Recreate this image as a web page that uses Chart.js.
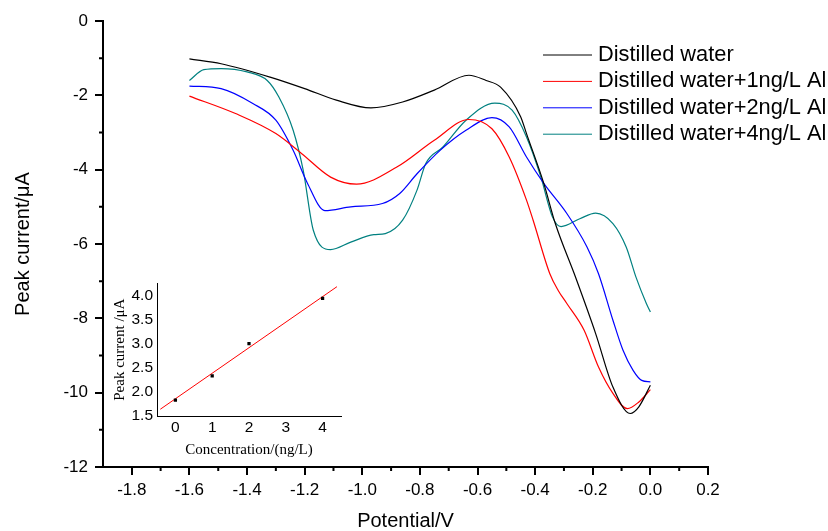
<!DOCTYPE html>
<html>
<head>
<meta charset="utf-8">
<script src="https://cdn.jsdelivr.net/npm/chart.js@4.4.0/dist/chart.umd.min.js"></script>
<style>
  body { margin: 0; background: #fff; }
  #wrap { position: relative; width: 828px; height: 531px; }
  #mainChart { position: absolute; left: 0; top: 0; }
  #insetBox { position: absolute; left: 100px; top: 270px; width: 250px; height: 190px; }
</style>
</head>
<body>
<div id="wrap">
  <canvas id="mainChart" width="828" height="531"></canvas>
  <div id="insetBox"><canvas id="insetChart" width="250" height="190"></canvas></div>
</div>
<script>
// main plot: potential (V) vs peak current (uA)
const seriesLabels = ['Distilled water', 'Distilled water+1ng/L Al', 'Distilled water+2ng/L Al', 'Distilled water+4ng/L Al'];
const seriesColors = ['#000000', '#ff0000', '#0000ff', '#008080'];

const waterX = [-1.60, -1.49, -1.32, -1.20, -1.09, -0.97, -0.86, -0.75, -0.63, -0.57, -0.52, -0.45, -0.43, -0.37, -0.33, -0.26, -0.19, -0.13, -0.07, -0.04, 0.0];
const waterY = [-1.02, -1.15, -1.51, -1.82, -2.13, -2.34, -2.18, -1.86, -1.46, -1.60, -1.78, -2.58, -3.03, -4.37, -5.45, -6.89, -8.41, -9.85, -10.56, -10.38, -9.80];

const al1X = [-1.60, -1.44, -1.30, -1.21, -1.11, -1.02, -0.88, -0.75, -0.63, -0.55, -0.49, -0.43, -0.407, -0.349, -0.32, -0.29, -0.23, -0.18, -0.13, -0.08, -0.04, 0.0];
const al1Y = [-2.02, -2.49, -3.03, -3.57, -4.20, -4.39, -3.93, -3.21, -2.65, -2.90, -3.66, -4.82, -5.36, -6.80, -7.25, -7.60, -8.32, -9.31, -10.02, -10.43, -10.25, -9.92];

const al2X = [-1.60, -1.49, -1.38, -1.30, -1.24, -1.19, -1.13, -1.04, -0.93, -0.87, -0.81, -0.73, -0.64, -0.55, -0.49, -0.43, -0.37, -0.29, -0.22, -0.18, -0.13, -0.095, -0.06, -0.03, 0.0];
const al2Y = [-1.75, -1.82, -2.22, -2.67, -3.48, -4.37, -5.10, -5.00, -4.91, -4.64, -4.11, -3.48, -2.94, -2.60, -2.85, -3.66, -4.37, -5.18, -6.08, -6.80, -8.05, -8.86, -9.40, -9.67, -9.71];

const al4X = [-1.60, -1.55, -1.49, -1.40, -1.33, -1.29, -1.24, -1.205, -1.17, -1.11, -1.04, -0.96, -0.92, -0.86, -0.81, -0.78, -0.72, -0.64, -0.54, -0.48, -0.43, -0.38, -0.34, -0.31, -0.245, -0.19, -0.13, -0.084, -0.05, -0.014, 0.0];
const al4Y = [-1.60, -1.31, -1.28, -1.37, -1.60, -2.04, -2.94, -4.02, -5.63, -6.15, -5.95, -5.75, -5.72, -5.36, -4.55, -3.84, -3.39, -2.67, -2.21, -2.40, -3.12, -4.20, -5.27, -5.53, -5.32, -5.17, -5.45, -6.08, -6.89, -7.60, -7.83];

const xTicks = [-1.8, -1.6, -1.4, -1.2, -1.0, -0.8, -0.6, -0.4, -0.2, 0.0, 0.2];
const xMinorTicks = [-1.7, -1.5, -1.3, -1.1, -0.9, -0.7, -0.5, -0.3, -0.1, 0.1];
const yTicks = [0, -2, -4, -6, -8, -10, -12];
const yMinorTicks = [-1, -3, -5, -7, -9, -11];

// inset: calibration
const concX = [0, 1, 2, 4];
const peakY = [1.83, 2.33, 3.0, 3.94];
const fitX = [-0.41, 4.39];
const fitY = [1.64, 4.18];
const insetXTicks = [0, 1, 2, 3, 4];
const insetYTicks = [1.5, 2.0, 2.5, 3.0, 3.5, 4.0];

const sans = "'Liberation Sans', Arial, sans-serif";
const serif = "'Liberation Serif', 'Times New Roman', serif";

function pts(xs, ys) {
  return xs.map((x, i) => ({ x: x, y: ys[i] }));
}

const minorTickPlugin = {
  id: 'minorTicks',
  afterDraw(chart) {
    const ctx = chart.ctx;
    const xs = chart.scales.x, ys = chart.scales.y;
    const area = chart.chartArea;
    ctx.save();
    ctx.strokeStyle = '#000';
    ctx.lineWidth = 2;
    ctx.beginPath();
    xMinorTicks.forEach(v => {
      const px = xs.getPixelForValue(v);
      ctx.moveTo(px, area.bottom);
      ctx.lineTo(px, area.bottom + 4);
    });
    yMinorTicks.forEach(v => {
      const py = ys.getPixelForValue(v);
      ctx.moveTo(area.left, py);
      ctx.lineTo(area.left - 4, py);
    });
    ctx.stroke();
    ctx.restore();
  }
};

const legendPlugin = {
  id: 'cornerLegend',
  afterDraw(chart) {
    const ctx = chart.ctx;
    const left = 543, lineLen = 49, top = 55, rowH = 26.4;
    ctx.save();
    ctx.font = '21.8px ' + sans;
    ctx.textBaseline = 'middle';
    ctx.fillStyle = '#000';
    chart.data.datasets.forEach((ds, i) => {
      const y = top + i * rowH;
      ctx.strokeStyle = ds.borderColor;
      ctx.lineWidth = 1;
      ctx.beginPath();
      ctx.moveTo(left, y);
      ctx.lineTo(left + lineLen, y);
      ctx.stroke();
      ctx.fillText(ds.label, left + lineLen + 6, y);
    });
    ctx.restore();
  }
};

const curveData = [pts(waterX, waterY), pts(al1X, al1Y), pts(al2X, al2Y), pts(al4X, al4Y)];

new Chart(document.getElementById('mainChart'), {
  type: 'line',
  data: {
    datasets: curveData.map((d, i) => ({
      label: seriesLabels[i],
      data: d,
      borderColor: seriesColors[i],
      borderWidth: 1.2,
      pointRadius: 0,
      fill: false,
      cubicInterpolationMode: 'monotone'
    }))
  },
  options: {
    responsive: false,
    animation: false,
    layout: { padding: { top: 21, right: 120, bottom: 0, left: 0 } },
    plugins: { legend: { display: false }, tooltip: { enabled: false } },
    scales: {
      x: {
        type: 'linear',
        min: -1.9,
        max: 0.2,
        afterBuildTicks: s => { s.ticks = xTicks.map(v => ({ value: v })); },
        afterFit: s => { s.height = 64; },
        border: { display: true, color: '#000', width: 2 },
        grid: { drawOnChartArea: false, color: '#000', lineWidth: 2, tickLength: 8 },
        ticks: {
          color: '#000', padding: 5, maxRotation: 0, autoSkip: false,
          font: { family: sans, size: 17 },
          callback: v => v.toFixed(1)
        },
        title: { display: true, text: 'Potential/V', color: '#000', font: { family: sans, size: 20 }, padding: { top: 0, bottom: -2 } }
      },
      y: {
        type: 'linear',
        min: -12,
        max: 0,
        afterBuildTicks: s => { s.ticks = yTicks.map(v => ({ value: v })); },
        afterFit: s => { s.width = 103; },
        border: { display: true, color: '#000', width: 2 },
        grid: { drawOnChartArea: false, color: '#000', lineWidth: 2, tickLength: 8 },
        ticks: {
          color: '#000', padding: 7, autoSkip: false,
          font: { family: sans, size: 17 },
          callback: v => String(v)
        },
        title: { display: true, text: 'Peak current/\u03bcA', color: '#000', font: { family: sans, size: 20 }, padding: { top: 11, bottom: 0 } }
      }
    }
  },
  plugins: [minorTickPlugin, legendPlugin]
});

new Chart(document.getElementById('insetChart'), {
  type: 'scatter',
  data: {
    datasets: [
      {
        label: 'measured',
        data: pts(concX, peakY),
        pointStyle: 'rect',
        pointRadius: 2.3,
        backgroundColor: '#000',
        borderColor: '#000',
        borderWidth: 0
      },
      {
        label: 'fit',
        type: 'line',
        data: pts(fitX, fitY),
        borderColor: '#ff0000',
        borderWidth: 1,
        pointRadius: 0,
        fill: false
      }
    ]
  },
  options: {
    responsive: false,
    animation: false,
    layout: { padding: { top: 11, right: 9, bottom: 0, left: 0 } },
    plugins: { legend: { display: false }, tooltip: { enabled: false } },
    scales: {
      x: {
        type: 'linear',
        min: -0.5,
        max: 4.5,
        afterBuildTicks: s => { s.ticks = insetXTicks.map(v => ({ value: v })); },
        afterFit: s => { s.height = 44; },
        border: { display: true, color: '#000', width: 1 },
        grid: { display: false, drawTicks: false },
        ticks: { color: '#000', padding: 2, font: { family: sans, size: 15.5 }, callback: v => String(v) },
        title: { display: true, text: 'Concentration/(ng/L)', color: '#000', font: { family: serif, size: 15 }, padding: { top: 0, bottom: 1 } }
      },
      y: {
        type: 'linear',
        min: 1.5,
        max: 4.25,
        afterBuildTicks: s => { s.ticks = insetYTicks.map(v => ({ value: v })); },
        afterFit: s => { s.width = 57; },
        border: { display: true, color: '#000', width: 1 },
        grid: { display: false, drawTicks: false },
        ticks: { color: '#000', padding: 4, font: { family: sans, size: 15.5 }, callback: v => v.toFixed(1) },
        title: { display: true, text: 'Peak current /\u03bcA', color: '#000', font: { family: serif, size: 15 }, padding: { top: 11, bottom: 0 } }
      }
    }
  }
});
</script>
</body>
</html>
